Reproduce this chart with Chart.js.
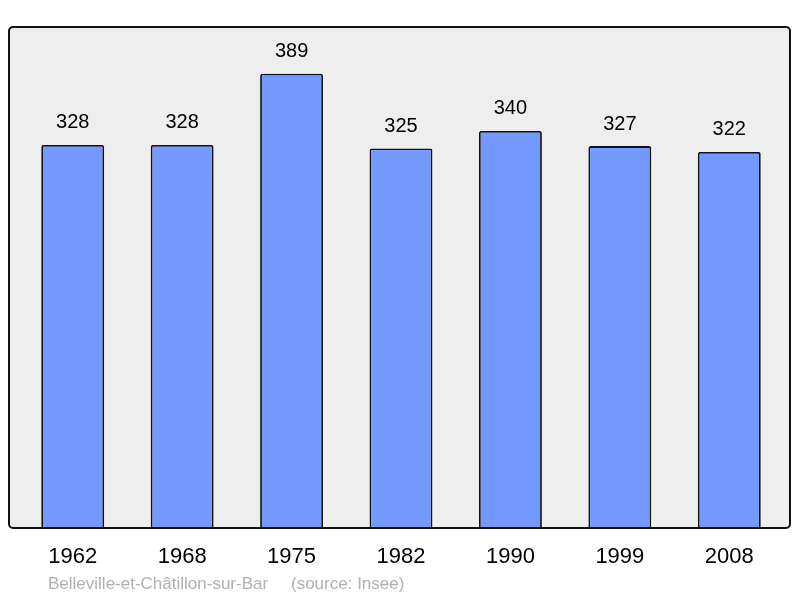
<!DOCTYPE html>
<html>
<head>
<meta charset="utf-8">
<script src="https://cdn.jsdelivr.net/npm/chart.js@4/dist/chart.umd.min.js"></script>
<style>
  body { margin: 0; background: #fff; }
  #wrap { width: 800px; height: 598px; position: relative; }
</style>
</head>
<body>
<div id="wrap"><canvas id="grafico"></canvas></div>
<script>
const annees = ['1962', '1968', '1975', '1982', '1990', '1999', '2008'];
const population = [328, 328, 389, 325, 340, 327, 322];
const commune = 'Belleville-et-Châtillon-sur-Bar';
const source = '(source: Insee)';

// cadre gris arrondi + textes
const decor = {
  id: 'decor',
  beforeDatasetsDraw(chart) {
    const ctx = chart.ctx;
    ctx.save();
    ctx.beginPath();
    ctx.roundRect(9, 27, 781, 501, 4);
    ctx.fillStyle = '#eeeeee';
    ctx.fill();
    ctx.restore();
  },
  afterDatasetsDraw(chart) {
    const ctx = chart.ctx;
    const x = chart.scales.x;
    const y = chart.scales.y;
    ctx.save();
    ctx.beginPath();
    ctx.roundRect(9, 27, 781, 501, 4);
    ctx.lineWidth = 2;
    ctx.strokeStyle = '#111';
    ctx.stroke();

    ctx.fillStyle = '#000';
    ctx.textAlign = 'center';
    ctx.textBaseline = 'middle';
    ctx.font = '20px "Liberation Sans", Arial, sans-serif';
    population.forEach((v, i) => {
      ctx.fillText(String(v), x.getPixelForValue(i), y.getPixelForValue(v) - 22);
    });
    ctx.font = '22px "Liberation Sans", Arial, sans-serif';
    annees.forEach((a, i) => {
      ctx.fillText(a, x.getPixelForValue(i), 557);
    });
    ctx.textAlign = 'left';
    ctx.fillStyle = '#b0b0b0';
    ctx.font = '17px "Liberation Sans", Arial, sans-serif';
    ctx.fillText(commune, 48, 584);
    ctx.fillText(source, 291, 584);
    ctx.restore();
  }
};

new Chart(document.getElementById('grafico'), {
  type: 'bar',
  data: {
    labels: annees,
    datasets: [{
      data: population,
      backgroundColor: '#7399ff',
      borderColor: '#111',
      borderWidth: 1.8,
      borderSkipped: 'bottom',
      borderRadius: 2,
      barPercentage: 0.575,
      categoryPercentage: 1
    }]
  },
  options: {
    responsive: true,
    maintainAspectRatio: false,
    animation: false,
    layout: { padding: { left: 18, right: 16, top: 27, bottom: 70 } },
    plugins: { legend: { display: false }, tooltip: { enabled: false } },
    scales: {
      x: { display: false },
      y: { display: false, min: 0, max: 429 }
    }
  },
  plugins: [decor]
});
</script>
</body>
</html>
